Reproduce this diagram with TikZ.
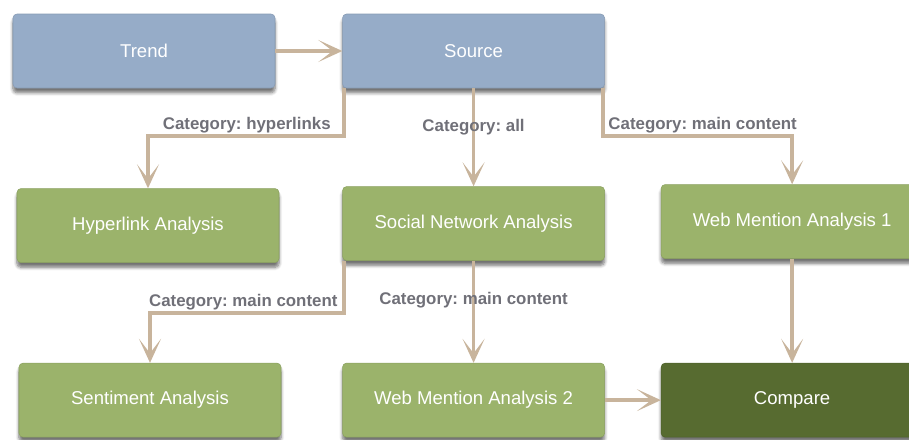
\documentclass[tikz,border=0pt]{standalone}
\usepackage{fontspec}
\setmainfont{Liberation Sans}
\usetikzlibrary{positioning,arrows.meta,shadows.blur}
\frenchspacing

\definecolor{trendblue}{HTML}{96ACC8}
\definecolor{boxgreen}{HTML}{9BB36B}
\definecolor{darkgreen}{HTML}{576B30}
\definecolor{linktan}{HTML}{C8B49C}
\definecolor{labelgray}{HTML}{707078}

\begin{document}
\begin{tikzpicture}[x=0.25mm, y=0.25mm,
    box/.style={rectangle, rounded corners=1mm, minimum width=65.5mm, minimum height=18.5mm,
        text=white, font=\fontsize{13.2}{15}\selectfont,
        blur shadow={shadow xshift=0mm, shadow yshift=-1.2mm, shadow blur radius=0.8mm,
            shadow blur steps=6, shadow opacity=55}},
    bluebox/.style={box, fill=trendblue, draw=trendblue!90!black},
    greenbox/.style={box, fill=boxgreen, draw=boxgreen!90!black},
    darkbox/.style={box, fill=darkgreen, draw=darkgreen!90!black},
    link/.style={draw=linktan, line width=0.9mm, -{Stealth[length=6mm, width=5.5mm, inset=3.6mm]}},
    cat/.style={font=\bfseries\fontsize{12}{14}\selectfont, text=labelgray, inner sep=1pt}]
\useasboundingbox (0,0) rectangle (909,-439);
\clip (0,0) rectangle (909,-439);

\node[bluebox] (trend) at (144,-51) {Trend};
\node[bluebox, right=16.75mm of trend] (source) {Source};

\node[greenbox, below=25mm of trend, xshift=1mm] (hyper) {Hyperlink Analysis};
\node[greenbox, below=24.5mm of source] (sna) {Social Network Analysis};
\node[greenbox, right=14mm of sna, yshift=0.5mm] (wma1) {Web Mention Analysis 1};

\node[greenbox, below=25mm of hyper, xshift=0.5mm] (sent) {Sentiment Analysis};
\node[greenbox, below=25.5mm of sna] (wma2) {Web Mention Analysis 2};
\node[darkbox, right=14mm of wma2] (compare) {Compare};

\draw[link] (trend) -- (source);
\draw[link] ([xshift=0.4mm]source.south west) -- ++(0,-12mm)
    node[cat, above left, xshift=-2.5mm] (lblhyper) {Category: hyperlinks} -| (hyper.north);
\draw[link] (source) -- (sna) node[cat, pos=0.4] (lblall) {Category: all};
\draw[link] ([xshift=-0.4mm]source.south east) -- ++(0,-12mm)
    node[cat, above right, xshift=0.5mm] (lblmain) {Category: main content} -| (wma1.north);

\draw[link] ([xshift=0.4mm]sna.south west) -- ++(0,-13mm)
    node[cat, above left, xshift=-0.8mm] (lblsent) {Category: main content} -| (sent.north);
\draw[link] (sna) -- (wma2) node[cat, pos=0.39] (lblwma) {Category: main content};
\draw[link] (wma1) -- (compare);
\draw[link] (wma2) -- (compare);
\end{tikzpicture}
\end{document}
